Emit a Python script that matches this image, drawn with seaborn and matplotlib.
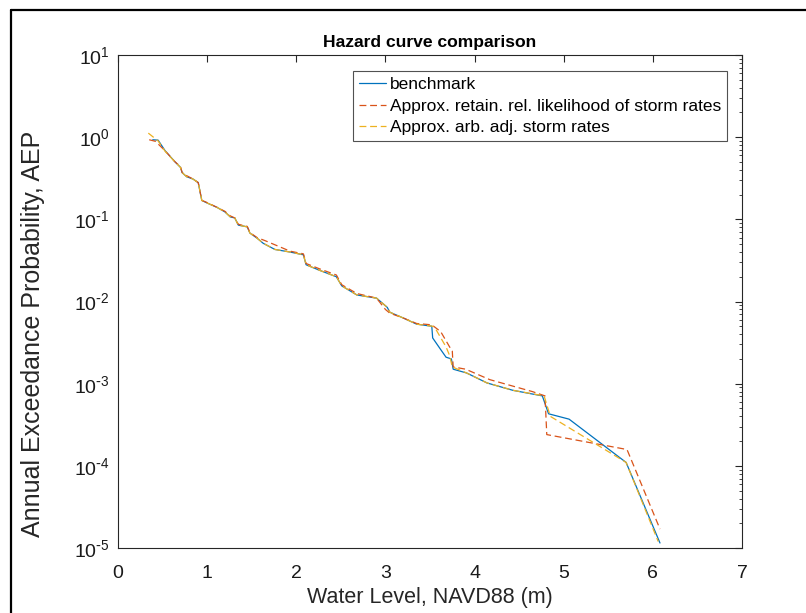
import numpy as np
import pandas as pd
import matplotlib
matplotlib.use("Agg")
import matplotlib.pyplot as plt
from matplotlib.lines import Line2D
from matplotlib.ticker import FixedLocator, FuncFormatter, NullFormatter
import seaborn as sns

# ---------------- data ----------------
bench_x = [0.39, 0.45, 0.53, 0.64, 0.70, 0.72, 0.77, 0.84, 0.90, 0.94, 1.00, 1.11,
           1.20, 1.26, 1.31, 1.35, 1.45, 1.48, 1.56, 1.63, 1.76, 1.93, 2.08, 2.11,
           2.26, 2.45, 2.51, 2.68, 2.90, 3.02, 3.05, 3.20, 3.35, 3.52, 3.53, 3.62,
           3.68, 3.74, 3.76, 3.91, 4.14, 4.43, 4.76, 4.83, 5.06, 5.70, 6.08]
bench_y = [0.93, 0.92, 0.68, 0.50, 0.43, 0.37, 0.33, 0.31, 0.28, 0.17, 0.158, 0.14,
           0.123, 0.107, 0.104, 0.085, 0.081, 0.068, 0.059, 0.051, 0.043, 0.040, 0.037, 0.028,
           0.024, 0.020, 0.0155, 0.012, 0.011, 0.0085, 0.0074, 0.0063, 0.0053, 0.0050, 0.0036, 0.0026,
           0.0021, 0.0020, 0.0015, 0.00135, 0.00102, 0.00083, 0.00071, 0.00043, 0.00037, 0.00011, 1.15e-5]

retain_x = [0.35, 0.42, 0.53, 0.64, 0.70, 0.72, 0.77, 0.84, 0.90, 0.94, 1.00, 1.11,
            1.20, 1.26, 1.31, 1.35, 1.45, 1.48, 1.56, 1.65, 1.80, 1.93, 2.08, 2.11,
            2.26, 2.45, 2.51, 2.68, 2.90, 3.00, 3.05, 3.20, 3.35, 3.52, 3.62, 3.72,
            3.75, 3.76, 3.90, 4.17, 4.65, 4.79, 4.81, 5.71, 6.08]
retain_y = [0.93, 0.89, 0.68, 0.50, 0.44, 0.37, 0.34, 0.31, 0.28, 0.17, 0.16, 0.14,
            0.125, 0.11, 0.104, 0.087, 0.082, 0.069, 0.060, 0.055, 0.047, 0.041, 0.038, 0.029,
            0.025, 0.021, 0.016, 0.0125, 0.0110, 0.0080, 0.0072, 0.0063, 0.0054, 0.0052, 0.0043, 0.0028,
            0.0025, 0.0016, 0.0015, 0.00112, 0.00080, 0.00071, 0.00024, 0.000158, 1.7e-5]

arb_x = [0.34, 0.45, 0.53, 0.64, 0.70, 0.72, 0.77, 0.84, 0.90, 0.94, 1.00, 1.11,
         1.20, 1.26, 1.31, 1.35, 1.45, 1.48, 1.56, 1.63, 1.76, 1.93, 2.08, 2.11,
         2.26, 2.45, 2.51, 2.68, 2.90, 3.02, 3.05, 3.20, 3.35, 3.53, 3.57, 3.68,
         3.72, 3.75, 3.91, 4.14, 4.43, 4.78, 4.85, 5.70, 6.06]
arb_y = [1.12, 0.90, 0.67, 0.50, 0.43, 0.37, 0.33, 0.31, 0.28, 0.17, 0.158, 0.14,
         0.123, 0.107, 0.104, 0.085, 0.081, 0.068, 0.059, 0.051, 0.043, 0.040, 0.037, 0.028,
         0.024, 0.020, 0.0155, 0.012, 0.011, 0.0085, 0.0074, 0.0063, 0.0053, 0.0050, 0.0045, 0.0028,
         0.0022, 0.0016, 0.00135, 0.00102, 0.00083, 0.00071, 0.00040, 0.00011, 1.2e-5]

labels = ["benchmark",
          "Approx. retain. rel. likelihood of storm rates",
          "Approx. arb. adj. storm rates"]
colors = ["#0072BD", "#D95319", "#EDB120"]
x_ticks = [0, 1, 2, 3, 4, 5, 6, 7]
y_exponents = [-5, -4, -3, -2, -1, 0, 1]
title = "Hazard curve comparison"
xlabel = "Water Level, NAVD88 (m)"
ylabel = "Annual Exceedance Probability, AEP"

# ---------------- style ----------------
sns.set_theme(style="white")
plt.rcParams["font.family"] = ["Liberation Sans", "DejaVu Sans"]
plt.rcParams["mathtext.default"] = "regular"
plt.rcParams["axes.unicode_minus"] = False
plt.rcParams["axes.edgecolor"] = "#262626"
plt.rcParams["text.color"] = "#000000"

W, H = 806, 613
fig = plt.figure(figsize=(W / 100, H / 100), dpi=100)
ax_l, ax_r, ax_t, ax_b = 118, 742, 55, 548
ax = fig.add_axes([ax_l / W, 1 - ax_b / H, (ax_r - ax_l) / W, (ax_b - ax_t) / H])

series = [(bench_x, bench_y, "-"), (retain_x, retain_y, "--"), (arb_x, arb_y, "--")]
for (xs, ys, ls), lab, col in zip(series, labels, colors):
    df = pd.DataFrame({"x": xs, "y": ys})
    sns.lineplot(data=df, x="x", y="y", ax=ax, color=col, linestyle=ls,
                 linewidth=0.9, estimator=None, sort=False, label=lab,
                 dashes=False)
for line, ls in zip(ax.get_lines(), ["-", "--", "--"]):
    line.set_linestyle(ls)
    if ls == "--":
        line.set_dashes((5.5, 3.0))

ax.set_yscale("log")
ax.set_xlim(0, 7)
ax.set_ylim(1e-5, 10)
ax.xaxis.set_major_locator(FixedLocator(x_ticks))
major_y = [10.0 ** e for e in y_exponents]
minor_y = [m * 10.0 ** e for e in y_exponents[:-1] for m in range(2, 10)]
ax.yaxis.set_major_locator(FixedLocator(major_y))
ax.yaxis.set_minor_locator(FixedLocator(minor_y))
ax.yaxis.set_minor_formatter(NullFormatter())


def dec_fmt(v, pos):
    e = int(round(np.log10(v)))
    if e < 0:
        return r"$10^{\text{-}%d}$" % (-e)
    return r"$10^{%d}$" % e


ax.yaxis.set_major_formatter(FuncFormatter(dec_fmt))
ax.tick_params(which="both", direction="in", top=True, right=True,
               color="#262626", labelcolor="#1a1a1a", labelsize=14)
ax.tick_params(which="major", length=5, width=0.8)
ax.tick_params(which="minor", length=2.5, width=0.6)
ax.tick_params(axis="x", pad=12)
ax.tick_params(axis="y", pad=6)
for sp in ax.spines.values():
    sp.set_linewidth(0.8)
    sp.set_color("#262626")

ax.set_title(title, fontsize=12.6, fontweight="bold", pad=6)
ax.set_xlabel(xlabel, fontsize=15.5, va="center")
ax.xaxis.set_label_coords(0.5, -(598 - ax_b) / (ax_b - ax_t))
ax.set_ylabel(ylabel, fontsize=18, va="center")
ax.yaxis.set_label_coords(-(ax_l - 33) / (ax_r - ax_l), 1 - (334 - ax_t) / (ax_b - ax_t))

leg = ax.legend(loc="upper right", bbox_to_anchor=((727 - ax_l) / (ax_r - ax_l), 1 - (71 - ax_t) / (ax_b - ax_t)),
                borderaxespad=0, fontsize=12.5, frameon=True, fancybox=False,
                handlelength=1.55, handletextpad=0.2, labelspacing=0.36,
                borderpad=0.35)
leg.get_frame().set_edgecolor("#262626")
leg.get_frame().set_linewidth(0.8)

# outer frame (left and top edges visible in reference)
fig.add_artist(Line2D([11 / W, 11 / W], [0, 1 - 10 / H], transform=fig.transFigure,
                      color="black", linewidth=1.6))
fig.add_artist(Line2D([11 / W, 1], [1 - 10 / H, 1 - 10 / H], transform=fig.transFigure,
                      color="black", linewidth=1.6))

fig.savefig("out.png", dpi=100)
